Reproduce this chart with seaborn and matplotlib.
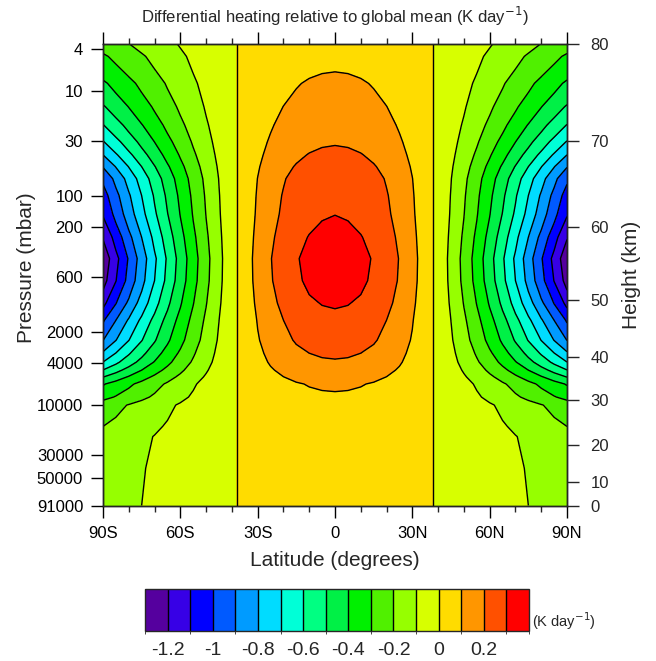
import numpy as np
import matplotlib
matplotlib.use("Agg")
import matplotlib.pyplot as plt
import matplotlib.ticker as mticker
from matplotlib.colors import ListedColormap, BoundaryNorm
import matplotlib.cm as cm
import seaborn as sns

# ---------------- data ----------------
# latitude grid (one hemisphere, mirrored) and latitudinal structure of the heating
lat_half = [0, 5, 10, 15, 20, 25, 30, 35, 40, 45, 50, 55, 60, 65, 70, 75, 80, 85, 90]
lat_struct = [0.215, 0.211, 0.200, 0.181, 0.155, 0.121, 0.081, 0.034, -0.019, -0.078,
              -0.142, -0.211, -0.285, -0.362, -0.443, -0.526, -0.611, -0.698, -0.785]

# pressure levels (mbar) and vertical amplitude of the heating (K/day)
pressure_mbar = [3.58, 4.7, 8.5, 14.2, 21.3, 30.7, 41, 53, 69, 100, 150, 250, 400, 650,
                 1060, 1550, 2400, 3200, 3900, 4650, 5400, 6300, 8400, 10000, 16000,
                 20000, 40000, 91000]
amplitude = [0.33, 0.40, 0.53, 0.65, 0.77, 0.90, 1.02, 1.14, 1.25, 1.33, 1.39, 1.52, 1.62, 1.58,
             1.44, 1.29, 1.15, 1.00, 0.89, 0.76, 0.64, 0.52, 0.42, 0.32, 0.255,
             0.22, 0.20, 0.19]

levels = [-1.2, -1.1, -1.0, -0.9, -0.8, -0.7, -0.6, -0.5, -0.4, -0.3, -0.2, -0.1,
          0.0, 0.1, 0.2, 0.3]
fill_colors = ["#55009e", "#3700e6", "#0000ff", "#005aff", "#009bff", "#00dcff",
               "#00ffd7", "#00ff82", "#00f046", "#00f000", "#50f000", "#96ff00",
               "#d7ff00", "#ffdc00", "#ff9600", "#ff5000", "#ff0000"]

pressure_ticks = [4, 10, 30, 100, 200, 600, 2000, 4000, 10000, 30000, 50000, 91000]
height_km = [0, 10, 20, 30, 40, 50, 60, 70, 80]
height_pressure = [91000, 53800, 23860, 8970, 3486, 985, 200, 30.2, 3.58]
lat_ticks = [-90, -60, -30, 0, 30, 60, 90]
lat_labels = ["90S", "60S", "30S", "0", "30N", "60N", "90N"]
cbar_ticks = [-1.2, -1.0, -0.8, -0.6, -0.4, -0.2, 0.0, 0.2]
cbar_labels = ["-1.2", "-1", "-0.8", "-0.6", "-0.4", "-0.2", "0", "0.2"]

# ---------------- build field ----------------
lat_half_a = np.array(lat_half, dtype=float)
struct_a = np.array(lat_struct)
lats = np.concatenate([-lat_half_a[::-1], lat_half_a[1:]])
struct = np.concatenate([struct_a[::-1], struct_a[1:]])
Z = np.outer(np.array(amplitude), struct)
P = np.array(pressure_mbar, dtype=float)

# ---------------- style ----------------
sns.set_style("ticks")
plt.rcParams["font.family"] = ["Liberation Sans", "DejaVu Sans"]
plt.rcParams["contour.negative_linestyle"] = "solid"
palette = sns.color_palette(fill_colors)

W, H = 656, 661
fig = plt.figure(figsize=(W / 100, H / 100), dpi=100)
ax = fig.add_axes([103 / W, 1 - 505.5 / H, 464 / W, 461.5 / H])

fill_levels = [-100.0] + levels + [100.0]
ax.contourf(lats, P, Z, levels=fill_levels, colors=palette)
ax.contour(lats, P, Z, levels=levels, colors="black", linewidths=1.0,
           linestyles="solid")

ax.set_yscale("log")
ax.set_ylim(91000, 3.58)
ax.set_xlim(-90, 90)
ax.yaxis.set_major_locator(mticker.FixedLocator(pressure_ticks))
ax.yaxis.set_major_formatter(mticker.FixedFormatter([str(v) for v in pressure_ticks]))
ax.yaxis.set_minor_locator(mticker.NullLocator())
ax.set_xticks(lat_ticks)
ax.set_xticklabels(lat_labels)
ax.xaxis.set_minor_locator(mticker.MultipleLocator(10))
ax.tick_params(axis="both", which="major", direction="out", length=8.8, width=1,
               labelsize=12, colors="black")
ax.tick_params(axis="y", which="major", pad=5.5)
ax.tick_params(axis="x", which="major", pad=6)
ax.tick_params(axis="x", which="minor", direction="out", length=4.5, width=1)
ax.tick_params(axis="x", which="both", top=True, labeltop=False)
ax.tick_params(axis="y", right=False)
for s in ax.spines.values():
    s.set_linewidth(1.0)
    s.set_color("black")

ax.set_xlabel("Latitude (degrees)", fontsize=15, labelpad=7)
fig.text(27 / W, 1 - 268 / H, "Pressure (mbar)", fontsize=15, rotation=90,
         ha="center", va="center")
fig.text(335 / W, 1 - 23 / H,
         "Differential heating relative to global mean (K day$^{-1}$)",
         fontsize=12, ha="center", va="baseline")

ax2 = ax.twinx()
ax2.set_yscale("log")
ax2.set_ylim(91000, 3.58)
ax2.yaxis.set_major_locator(mticker.FixedLocator(height_pressure))
ax2.yaxis.set_major_formatter(mticker.FixedFormatter([str(v) for v in height_km]))
ax2.yaxis.set_minor_locator(mticker.NullLocator())
ax2.tick_params(axis="y", which="major", direction="out", length=8.8, width=1,
                labelsize=12, pad=8)
for s in ax2.spines.values():
    s.set_linewidth(1.0)
fig.text(631.5 / W, 1 - 275 / H, "Height (km)", fontsize=15, rotation=90,
         ha="center", va="center")

# ---------------- colorbar ----------------
cax = fig.add_axes([145 / W, 1 - 631 / H, 384 / W, 42 / H])
bounds = [-1.3] + levels + [0.4]
cmap = ListedColormap(fill_colors)
norm = BoundaryNorm(bounds, cmap.N)
sm = cm.ScalarMappable(norm=norm, cmap=cmap)
cb = fig.colorbar(sm, cax=cax, orientation="horizontal", drawedges=True,
                  boundaries=bounds, spacing="uniform")
cb.set_ticks(cbar_ticks)
cb.set_ticklabels(cbar_labels)
cb.ax.tick_params(length=0, labelsize=14, pad=8)
cb.outline.set_linewidth(1.0)
cb.dividers.set_linewidth(1.0)
cb.dividers.set_color("black")
fig.text(532 / W, 1 - 621 / H, "(K day$^{-1}$)", fontsize=10.5, va="center", ha="left")

fig.savefig("out.png", dpi=100)
